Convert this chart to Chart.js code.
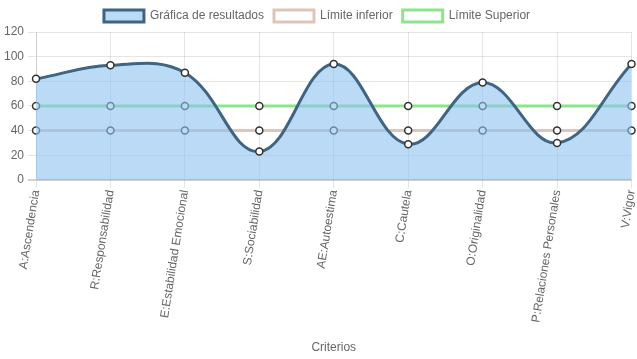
<!DOCTYPE html>
<html>
<head>
<meta charset="utf-8">
<script src="https://cdn.jsdelivr.net/npm/chart.js@4/dist/chart.umd.min.js"></script>
<style>
html,body{margin:0;padding:0;background:#fff;}
#wrap{width:637px;height:359px;position:relative;}
</style>
</head>
<body>
<div id="wrap"><canvas id="c"></canvas></div>
<script>
const categories = ["A:Ascendencia","R:Responsabilidad","E:Estabilidad Emocional","S:Sociabilidad","AE:Autoestima","C:Cautela","O:Originalidad","P:Relaciones Personales","V:Vigor"];
const resultados = [82, 93, 87, 23, 94, 29, 79, 30, 94];
const limiteInferior = [40, 40, 40, 40, 40, 40, 40, 40, 40];
const limiteSuperior = [60, 60, 60, 60, 60, 60, 60, 60, 60];
const yTicks = [0, 20, 40, 60, 80, 100, 120];

Chart.defaults.font.family = "'Liberation Sans', Arial, Helvetica, sans-serif";
Chart.defaults.font.size = 12;
Chart.defaults.color = '#666';

new Chart(document.getElementById('c'), {
  type: 'line',
  data: {
    labels: categories,
    datasets: [
      {
        label: 'Gráfica de resultados',
        data: resultados,
        borderColor: '#3f6484',
        backgroundColor: 'rgba(140,193,240,0.6)',
        borderWidth: 3,
        fill: 'origin',
        tension: 0.4,
        pointRadius: 3.5,
        pointBorderWidth: 1.5,
        pointBackgroundColor: '#fff',
        pointBorderColor: '#333'
      },
      {
        label: 'Límite inferior',
        data: limiteInferior,
        borderColor: 'rgb(224,196,186)',
        backgroundColor: '#fff',
        borderWidth: 3,
        fill: false,
        pointRadius: 3.5,
        pointBorderWidth: 1.5,
        pointBackgroundColor: '#fff',
        pointBorderColor: '#333'
      },
      {
        label: 'Límite Superior',
        data: limiteSuperior,
        borderColor: 'rgb(140,228,140)',
        backgroundColor: '#fff',
        borderWidth: 3,
        fill: false,
        pointRadius: 3.5,
        pointBorderWidth: 1.5,
        pointBackgroundColor: '#fff',
        pointBorderColor: '#333'
      }
    ]
  },
  options: {
    responsive: true,
    maintainAspectRatio: false,
    animation: false,
    layout: { padding: { left: 0, right: 3, top: 0, bottom: 4 } },
    plugins: {
      legend: {
        position: 'top',
        labels: { boxWidth: 40, boxHeight: 12, padding: 10, color: '#666' }
      },
      tooltip: { enabled: false }
    },
    scales: {
      x: {
        title: { display: true, text: 'Criterios', color: '#666', padding: { top: 16, bottom: 0 } },
        grid: { color: 'rgba(0,0,0,0.1)' },
        ticks: { minRotation: 81, maxRotation: 81, autoSkip: false, color: '#666', padding: 1 },
        afterFit: (scale) => { scale.paddingRight = 0; }
      },
      y: {
        min: 0,
        max: 120,
        afterBuildTicks: (axis) => { axis.ticks = yTicks.map(v => ({ value: v })); },
        grid: {
          color: (ctx) => ctx.tick && ctx.tick.value === 0 ? 'rgba(0,0,0,0.18)' : 'rgba(0,0,0,0.1)',
          lineWidth: (ctx) => ctx.tick && ctx.tick.value === 0 ? 2 : 1
        },
        ticks: { color: '#666', padding: 4 }
      }
    }
  }
});
</script>
</body>
</html>
